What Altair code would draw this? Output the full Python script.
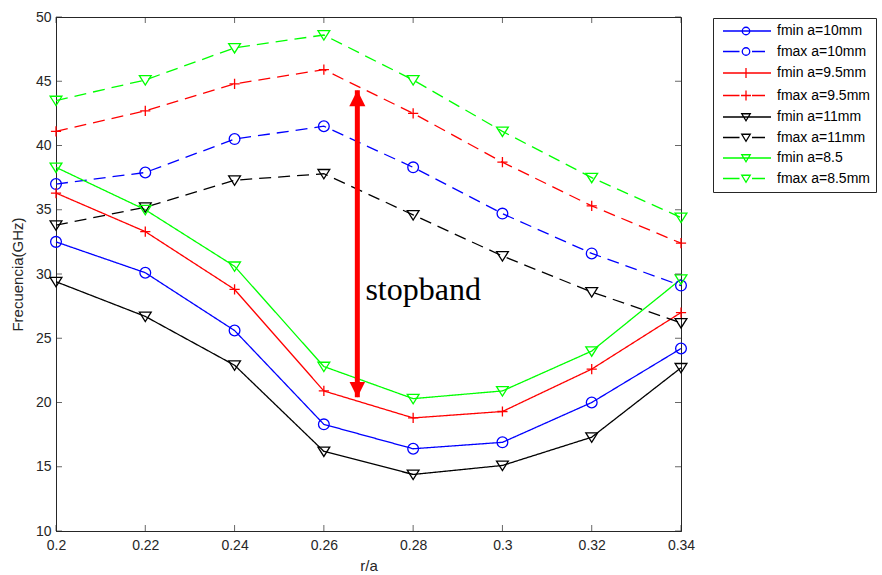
import altair as alt
import pandas as pd

r_values = [0.20, 0.22, 0.24, 0.26, 0.28, 0.30, 0.32, 0.34]

series_names = ["fmin a=10mm", "fmax a=10mm", "fmin a=9.5mm", "fmax a=9.5mm",
                "fmin a=11mm", "fmax a=11mm", "fmin a=8.5", "fmax a=8.5mm"]
series_colors = ["#0000FF", "#0000FF", "#FF0000", "#FF0000",
                 "#000000", "#000000", "#00FF00", "#00FF00"]
series_kind = ["min", "max", "min", "max", "min", "max", "min", "max"]

fmin_10 = [32.5, 30.1, 25.6, 18.3, 16.4, 16.9, 20.0, 24.2]
fmax_10 = [37.0, 37.9, 40.5, 41.5, 38.3, 34.7, 31.6, 29.1]
fmin_95 = [36.3, 33.3, 28.8, 20.9, 18.8, 19.3, 22.6, 27.0]
fmax_95 = [41.1, 42.7, 44.8, 45.9, 42.5, 38.7, 35.3, 32.4]
fmin_11 = [29.4, 26.7, 22.9, 16.2, 14.4, 15.1, 17.3, 22.7]
fmax_11 = [33.8, 35.2, 37.3, 37.8, 34.6, 31.4, 28.6, 26.2]
fmin_85 = [38.3, 35.0, 30.6, 22.8, 20.3, 20.9, 24.0, 29.6]
fmax_85 = [43.5, 45.1, 47.6, 48.6, 45.1, 41.1, 37.5, 34.4]

all_series = [fmin_10, fmax_10, fmin_95, fmax_95, fmin_11, fmax_11, fmin_85, fmax_85]

x_ticks = [0.2, 0.22, 0.24, 0.26, 0.28, 0.3, 0.32, 0.34]
y_ticks = [10, 15, 20, 25, 30, 35, 40, 45, 50]

arrow_r = [0.2675]
arrow_bottom = [20.4]
arrow_top = [44.3]
label_text = ["stopband"]
label_r = [0.2693]
label_f = [28.0]

# marker shapes (plot)
CIRCLE = "circle"
PLUS = "M-0.95,0L0.95,0M0,-0.95L0,0.95"
TRI = "M-1.1,-0.8L1.1,-0.8L0,0.95Z"
marker_shapes = [CIRCLE, CIRCLE, PLUS, PLUS, TRI, TRI, TRI, TRI]

# legend symbols (line + marker)
def leg(marker, dashed):
    line = "M-4.6,0L-1.3,0M1.2,0L3.8,0" if dashed else "M-4.6,0L5,0"
    return line + marker

L_CIRC = "M0.75,0A0.75,0.75,0,1,1,-0.75,0A0.75,0.75,0,1,1,0.75,0"
L_PLUS = "M-1,0L1,0M0,-1L0,1"
L_TRI = "M-0.85,-0.65L0.85,-0.65L0,0.75Z"
legend_shapes = [leg(L_CIRC, False), leg(L_CIRC, True), leg(L_PLUS, False), leg(L_PLUS, True),
                 leg(L_TRI, False), leg(L_TRI, True), leg(L_TRI, False), leg(L_TRI, True)]

rows = []
for name, kind, vals in zip(series_names, series_kind, all_series):
    for r, v in zip(r_values, vals):
        rows.append({"r": r, "f": v, "series": name, "legend_series": name, "kind": kind})
df = pd.DataFrame(rows)

x_scale = alt.Scale(domain=[0.2, 0.34], nice=False, zero=False)
y_scale = alt.Scale(domain=[10, 50], nice=False, zero=False)
color_scale = alt.Scale(domain=series_names, range=series_colors)

AX = "#262626"
FONT = "Liberation Sans"

x_enc = alt.X("r:Q", scale=x_scale, title="r/a",
              axis=alt.Axis(values=x_ticks, format="~g", ticks=False, grid=False,
                            labelFlush=False, labelPadding=7, titlePadding=6))
y_enc = alt.Y("f:Q", scale=y_scale, title="Frecuencia(GHz)",
              axis=alt.Axis(values=y_ticks, ticks=False, grid=False,
                            labelFlush=False, labelPadding=5, titlePadding=10))

lines = alt.Chart(df).mark_line(strokeWidth=1.3).encode(
    x=x_enc, y=y_enc,
    color=alt.Color("series:N", scale=color_scale, legend=None),
    strokeDash=alt.StrokeDash("kind:N", scale=alt.Scale(domain=["min", "max"], range=[[1, 0], [12, 7]]),
                              legend=None),
    detail="series:N",
)

points = alt.Chart(df).mark_point(filled=False, size=115, strokeWidth=1.3, opacity=1).encode(
    x="r:Q", y="f:Q",
    color=alt.Color("series:N", scale=color_scale, legend=None),
    shape=alt.Shape("series:N", scale=alt.Scale(domain=series_names, range=marker_shapes), legend=None),
)

legend_layer = alt.Chart(df).mark_point(filled=False, size=100, opacity=0).encode(
    x="r:Q", y="f:Q",
    color=alt.Color("legend_series:N", scale=alt.Scale(domain=series_names, range=series_colors),
                    legend=alt.Legend(title=None)),
    shape=alt.Shape("legend_series:N", scale=alt.Scale(domain=series_names, range=legend_shapes),
                    legend=alt.Legend(title=None)),
)

tick_x_df = pd.DataFrame({"r": x_ticks})
tick_y_df = pd.DataFrame({"f": y_ticks})

ticks_bottom = alt.Chart(tick_x_df).mark_tick(orient="vertical", size=6, thickness=1, color=AX).encode(
    x="r:Q", y=alt.value(514 - 3))
ticks_top = alt.Chart(tick_x_df).mark_tick(orient="vertical", size=6, thickness=1, color=AX).encode(
    x="r:Q", y=alt.value(3))
ticks_left = alt.Chart(tick_y_df).mark_tick(orient="horizontal", size=6, thickness=1, color=AX).encode(
    y="f:Q", x=alt.value(3))
ticks_right = alt.Chart(tick_y_df).mark_tick(orient="horizontal", size=6, thickness=1, color=AX).encode(
    y="f:Q", x=alt.value(625 - 3))

arrow_df = pd.DataFrame({"r": arrow_r, "lo": arrow_bottom, "hi": arrow_top})
arrow_shaft = alt.Chart(arrow_df).mark_rule(color="#FF0000", strokeWidth=5).encode(
    x="r:Q", y="lo:Q", y2="hi:Q")
head_top = alt.Chart(arrow_df).mark_point(shape="M0,-1L1,1L-1,1Z", filled=True, size=260,
                                          color="#FF0000", opacity=1, yOffset=8).encode(
    x="r:Q", y="hi:Q")
head_bottom = alt.Chart(arrow_df).mark_point(shape="M0,1L1,-1L-1,-1Z", filled=True, size=240,
                                             color="#FF0000", opacity=1, yOffset=-7.5).encode(
    x="r:Q", y="lo:Q")

text_df = pd.DataFrame({"t": label_text, "r": label_r, "f": label_f})
text = alt.Chart(text_df).mark_text(align="left", baseline="alphabetic", font="Liberation Serif",
                                    fontSize=32, color="#000000").encode(
    x="r:Q", y="f:Q", text="t:N")

chart = alt.layer(
    lines, points, legend_layer,
    ticks_bottom, ticks_top, ticks_left, ticks_right,
    arrow_shaft, head_top, head_bottom, text,
).resolve_scale(
    color="independent", shape="independent"
).properties(
    width=625, height=514,
    autosize=alt.AutoSizeParams(type="none"),
    padding={"left": 56, "top": 17, "right": 201, "bottom": 44},
    background="white",
).configure_view(
    stroke=AX, strokeWidth=1
).configure_axis(
    domainColor=AX, domainWidth=1, labelColor=AX, titleColor=AX,
    labelFont=FONT, titleFont=FONT, labelFontSize=14, titleFontSize=15,
    titleFontWeight="normal",
).configure_legend(
    orient="none", legendX=657, legendY=1,
    strokeColor=AX, fillColor="white", padding=6,
    labelFont=FONT, labelFontSize=14, labelColor="#000000",
    symbolSize=100, symbolStrokeWidth=1.3, symbolOpacity=1,
    symbolOffset=20, labelOffset=24, rowPadding=6.5,
)

chart.save("out.html", embed_options={"renderer": "svg", "actions": False})
